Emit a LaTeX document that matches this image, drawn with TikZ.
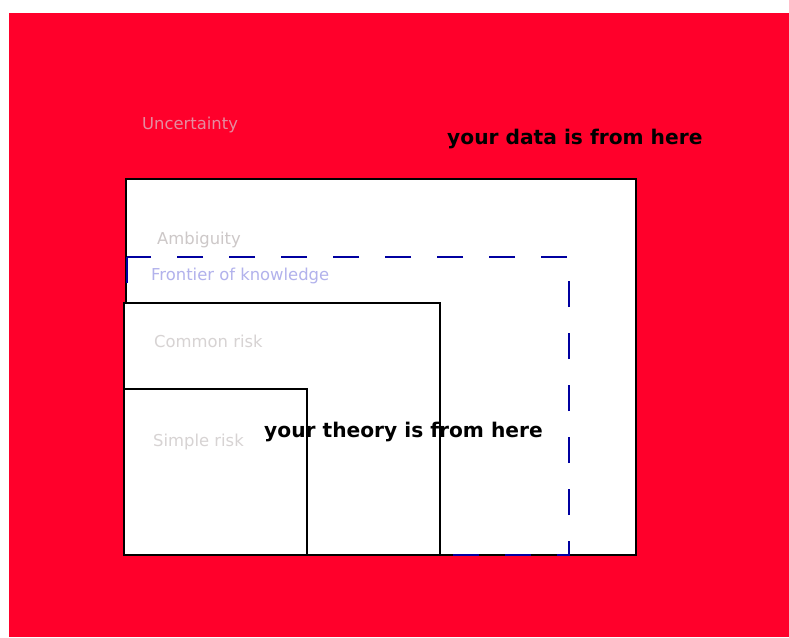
\documentclass[tikz,border=0pt]{standalone}
\usepackage{fontspec}
\setmainfont{DejaVu Sans}
\usetikzlibrary{positioning}
\definecolor{rkRed}{RGB}{255,0,43}
\definecolor{rkBlue}{RGB}{0,0,160}
\definecolor{rkPale}{RGB}{228,140,160}
\definecolor{rkGrey}{RGB}{205,200,200}
\definecolor{rkLightGrey}{RGB}{215,211,211}
\definecolor{rkLilac}{RGB}{178,178,236}

\begin{document}
\begin{tikzpicture}[
    x=1pt, y=-1pt,
    risk box/.style={draw=black, line width=2pt},
    frontier/.style={draw=rkBlue, line width=2.4pt, dash pattern=on 26pt off 26pt},
    zone label/.style={anchor=base west, inner sep=0pt, font=\fontsize{16.4}{19}\selectfont},
    claim/.style={anchor=base west, inner sep=0pt, font=\fontsize{20.2}{24}\selectfont\bfseries}
]
  \useasboundingbox (0,0) rectangle (789,637);
  \fill[rkRed] (9,13) rectangle (789,637);

  % ambiguity area and frontier
  \filldraw[fill=white, risk box] (126,179) rectangle (636,555);
  \draw[frontier] (127,257) -- (127,555) -- (569,555) -- (569,257) -- cycle;
  \fill[white] (124,303) rectangle (440,555);

  \node[zone label, text=rkPale] (uncertainty) at (142,129) {Uncertainty};
  \node[zone label, text=rkGrey] (ambiguity) at (157,244) {Ambiguity};
  \node[zone label, text=rkLilac] (frontier) at (151,280) {Frontier of knowledge};
  \node[zone label, text=rkLightGrey] (common) at (154,347) {Common risk};
  \node[zone label, text=rkLightGrey] (simple) at (153,446) {Simple risk};
  \node[claim] (theory) at (264,437) {your theory is from here};
  \node[claim] (data) at (447,144) {your data is from here};

  % risk boxes on top of the labels
  \draw[risk box] (124,303) rectangle (440,555);
  \draw[risk box] (124,389) rectangle (307,555);
\end{tikzpicture}
\end{document}
